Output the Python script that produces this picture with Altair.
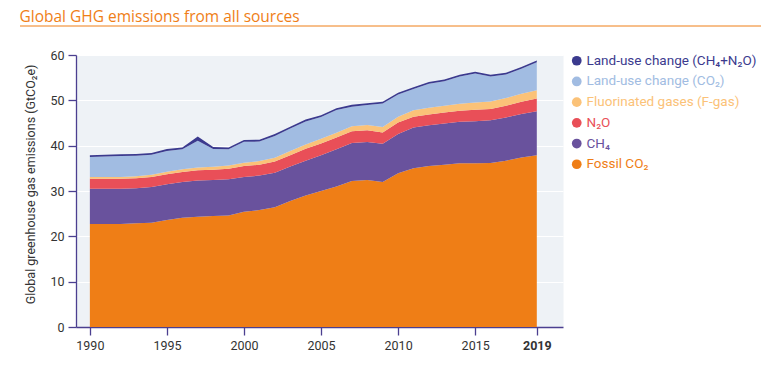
import altair as alt
import pandas as pd

years = list(range(1990, 2020))

fossil_co2 = [22.7, 22.7, 22.7, 22.9, 23.0, 23.6, 24.1, 24.3, 24.5, 24.6,
              25.4, 25.8, 26.4, 27.8, 29.0, 30.0, 31.0, 32.2, 32.4, 32.0,
              33.9, 35.0, 35.5, 35.8, 36.1, 36.1, 36.2, 36.7, 37.4, 37.9]
ch4 = [7.8, 7.8, 7.8, 7.7, 7.9, 7.9, 7.9, 8.0, 7.9, 8.0,
       7.7, 7.6, 7.6, 7.6, 7.7, 7.9, 8.2, 8.4, 8.4, 8.4,
       8.7, 9.0, 9.0, 9.1, 9.2, 9.3, 9.4, 9.5, 9.6, 9.7]
n2o = [2.2, 2.2, 2.2, 2.2, 2.2, 2.2, 2.2, 2.3, 2.3, 2.3,
       2.4, 2.4, 2.5, 2.5, 2.6, 2.6, 2.6, 2.6, 2.6, 2.5,
       2.5, 2.4, 2.4, 2.4, 2.4, 2.5, 2.5, 2.6, 2.7, 2.8]
fgas = [0.4, 0.4, 0.4, 0.45, 0.5, 0.55, 0.6, 0.6, 0.65, 0.7,
        0.75, 0.8, 0.85, 0.9, 0.95, 1.0, 1.05, 1.1, 1.15, 1.2,
        1.3, 1.4, 1.45, 1.5, 1.55, 1.6, 1.65, 1.7, 1.75, 1.8]
luc_co2 = [4.4, 4.5, 4.6, 4.5, 4.4, 4.6, 4.4, 5.9, 3.9, 3.6,
           4.6, 4.3, 4.8, 5.0, 5.1, 4.8, 5.0, 4.3, 4.4, 5.2,
           4.9, 4.7, 5.3, 5.4, 6.0, 6.4, 5.5, 5.2, 5.5, 6.2]
luc_other = [0.4, 0.4, 0.4, 0.4, 0.4, 0.4, 0.4, 0.9, 0.45, 0.4,
             0.4, 0.4, 0.4, 0.4, 0.4, 0.4, 0.4, 0.4, 0.4, 0.4,
             0.4, 0.4, 0.4, 0.4, 0.4, 0.4, 0.4, 0.4, 0.4, 0.4]

legend_names = ["Land-use change (CH₄+N₂O)", "Land-use change (CO₂)",
                "Fluorinated gases (F-gas)", "N₂O", "CH₄", "Fossil CO₂"]
legend_colors = ["#3b3a8e", "#a1bce2", "#fbc278", "#e94f58", "#69529d", "#ef7e16"]

stack_series = [("Fossil CO₂", fossil_co2), ("CH₄", ch4), ("N₂O", n2o),
                ("Fluorinated gases (F-gas)", fgas),
                ("Land-use change (CO₂)", luc_co2),
                ("Land-use change (CH₄+N₂O)", luc_other)]

x_ticks = [1990, 1995, 2000, 2005, 2010, 2015, 2019]
y_ticks = [0, 10, 20, 30, 40, 50, 60]
title_text = "Global GHG emissions from all sources"
y_title = "Global greenhouse gas emissions (GtCO₂e)"

rows = []
for i, (name, vals) in enumerate(stack_series):
    for yr, v in zip(years, vals):
        rows.append({"year": yr, "value": v, "series": name, "stackidx": i})
df = pd.DataFrame(rows)

axis_col = "#4b3f90"
orange = "#ef7e16"

areas = alt.Chart(df).mark_area(interpolate="linear").encode(
    x=alt.X("year:Q",
            scale=alt.Scale(domain=[1989.1, 2020.7], nice=False, zero=False),
            axis=alt.Axis(values=x_ticks, format="d", title=None, grid=False,
                          labelFontWeight={"condition": {"test": "datum.value == 2019", "value": "bold"},
                                           "value": "normal"})),
    y=alt.Y("value:Q", stack="zero",
            scale=alt.Scale(domain=[0, 60], nice=False),
            axis=alt.Axis(values=y_ticks, title=y_title, titleAngle=-90,
                          titleX=-42, titleY=129, titleAlign="center",
                          titleBaseline="alphabetic")),
    color=alt.Color("series:N",
                    scale=alt.Scale(domain=legend_names, range=legend_colors),
                    legend=alt.Legend(orient="none", legendX=494, legendY=-1,
                                      title=None, symbolType="circle",
                                      symbolSize=95, symbolStrokeWidth=0,
                                      labelFont="Roboto", labelFontSize=13.5,
                                      labelLimit=400, rowPadding=5.7, labelOffset=3,
                                      padding=0,
                                      labelColor=alt.ExprRef("scale('color', datum.value)"))),
    order=alt.Order("stackidx:Q", sort="ascending"),
)

title_mark = alt.Chart(pd.DataFrame({"t": [title_text]})).mark_text(
    align="left", baseline="alphabetic", font="Open Sans", fontSize=15.5,
    color=orange
).encode(text="t:N", x=alt.value(-56.5), y=alt.value(-33))

underline = alt.Chart(pd.DataFrame({"t": [title_text]})).mark_rule(
    color=orange, strokeWidth=1
).encode(x=alt.value(-56), x2=alt.value(685), y=alt.value(-29))

chart = alt.layer(areas, title_mark, underline).properties(
    width=487, height=272,
    autosize=alt.AutoSizeParams(type="none"),
    padding={"left": 68, "top": 47, "right": 198, "bottom": 30},
).configure(background="white").configure_view(
    fill="#eef2f6", strokeOpacity=0
).configure_axis(
    domainColor=axis_col, tickColor=axis_col, domainWidth=1.3, tickWidth=1.3,
    tickSize=8, labelFont="Roboto", labelFontSize=12.5, labelColor="#333333",
    titleFont="Roboto", titleFontSize=12.5, titleFontWeight="normal",
    titleColor="#333333", gridColor="white", gridWidth=1, labelPadding=4
)

chart.save("out.html", embed_options={"renderer": "svg", "actions": False})
